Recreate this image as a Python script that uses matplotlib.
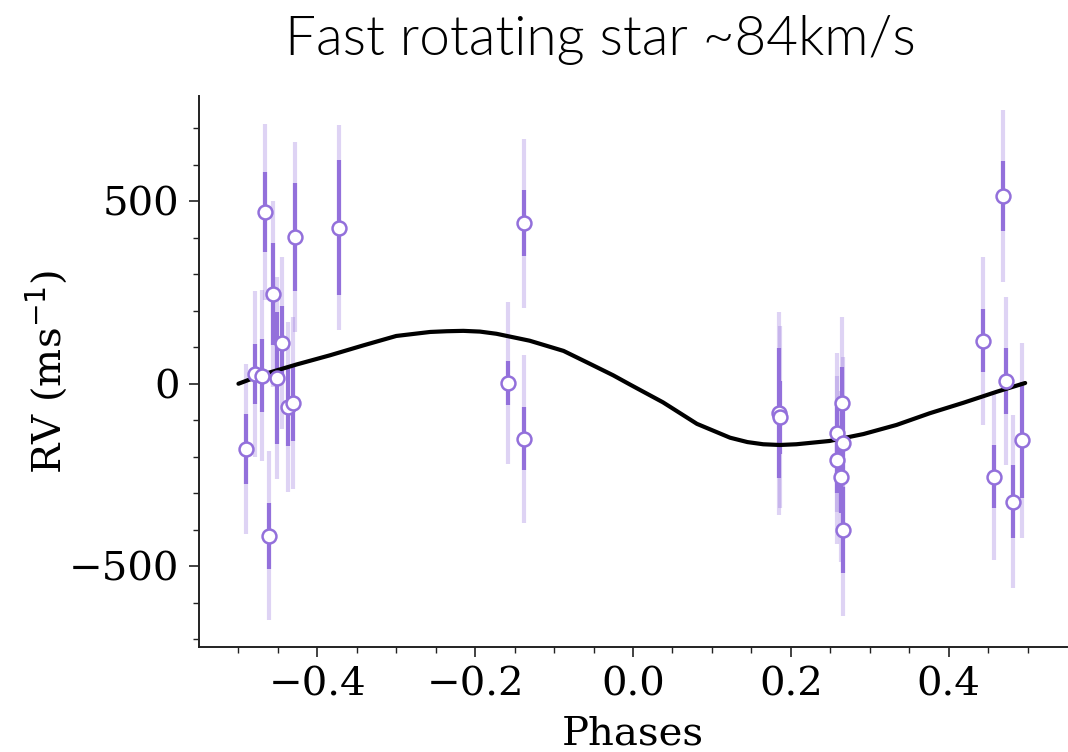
import matplotlib
matplotlib.use("Agg")
import matplotlib.pyplot as plt
from matplotlib.ticker import MultipleLocator, FixedLocator

# ---- data ----
phase = [-0.491, -0.479, -0.470, -0.466, -0.461, -0.456, -0.451, -0.445, -0.437,
         -0.431, -0.428, -0.372, -0.159, -0.138, -0.138, 0.185, 0.186, 0.2645,
         0.258, 0.266, 0.259, 0.2636, 0.2666, 0.469, 0.444, 0.473, 0.458, 0.481, 0.4926]
rv = [-179, 27, 22, 471, -417, 246, 16, 112, -64, -53, 402, 428, 2, 440, -151,
      -81, -92, -54, -135, -162, -210, -255, -400, 515, 118, 8, -255, -323, -155]
err_inner = [96, 83, 100, 110, 90, 139, 180, 100, 106, 104, 148, 186, 61, 90, 86,
             178, 100, 100, 90, 100, 90, 100, 118, 97, 87, 90, 86, 101, 159]
err_outer = [233, 228, 235, 240, 232, 255, 277, 235, 233, 237, 260, 282, 222, 232, 230,
             278, 250, 237, 218, 235, 230, 235, 238, 235, 230, 231, 229, 237, 267]

model_phase = [-0.500, -0.468, -0.426, -0.384, -0.342, -0.300, -0.257, -0.236, -0.215,
               -0.194, -0.173, -0.131, -0.088, -0.054, -0.025, -0.004, 0.038, 0.081,
               0.123, 0.145, 0.165, 0.186, 0.207, 0.249, 0.292, 0.334, 0.376, 0.419,
               0.461, 0.497]
model_rv = [0, 26, 53, 78, 105, 131, 142, 144, 145, 143, 137, 118, 90, 54, 23, -2,
            -51, -110, -148, -160, -166, -168, -166, -157, -138, -113, -81, -52, -22, 2]

title = "Fast rotating star ~84km/s"
xlabel = "Phases"
ylabel = r"RV (ms$^{-1}$)"
xticks = [-0.4, -0.2, 0.0, 0.2, 0.4]
yticks = [-500, 0, 500]
xminor = [-0.5, -0.45, -0.35, -0.3, -0.25, -0.15, -0.1, -0.05, 0.05, 0.1, 0.15,
          0.25, 0.3, 0.35, 0.45, 0.5]

# ---- plotting ----
col = "#9370DB"
fig = plt.figure(figsize=(10.68, 7.52), dpi=100)
ax = fig.add_axes([199/1068, 1 - 647/752, 868/1068, (647 - 96.4)/752])

ax.errorbar(phase, rv, yerr=err_outer, fmt="none", ecolor=col, alpha=0.3,
            elinewidth=3, capsize=0, zorder=2)
ax.errorbar(phase, rv, yerr=err_inner, fmt="none", ecolor=col, alpha=1.0,
            elinewidth=3, capsize=0, zorder=3)
ax.plot(model_phase, model_rv, color="black", lw=3, zorder=4,
        solid_joinstyle="round", solid_capstyle="round")
ax.plot(phase, rv, ls="none", marker="o", ms=10, mfc="white", mec=col, mew=1.8, zorder=5)

ax.set_xlim(-0.55, 0.55)
ax.set_ylim(-722, 788)
ax.set_xticks(xticks)
ax.set_yticks(yticks)
ax.xaxis.set_minor_locator(FixedLocator(xminor))
ax.yaxis.set_minor_locator(MultipleLocator(100))

for s in ["top", "right"]:
    ax.spines[s].set_visible(False)
for s in ["left", "bottom"]:
    ax.spines[s].set_linewidth(1.4)
    ax.spines[s].set_color("#222222")

ax.tick_params(which="major", length=7, width=1.2, direction="out", pad=7,
               labelsize=29, colors="#222222", labelcolor="black")
ax.tick_params(which="minor", length=4, width=1.0, direction="out", colors="#222222")
for lab in ax.get_xticklabels() + ax.get_yticklabels():
    lab.set_family("DejaVu Serif")

ax.set_xlabel(xlabel, family="DejaVu Serif", fontsize=29, labelpad=9)
ax.set_ylabel(ylabel, family="DejaVu Serif", fontsize=29, labelpad=0)

fig.text(600/1068, 1 - 55/752, title, family="Lato", weight=300, fontsize=39.5,
         ha="center", va="baseline")

fig.savefig("out.png", dpi=100)
